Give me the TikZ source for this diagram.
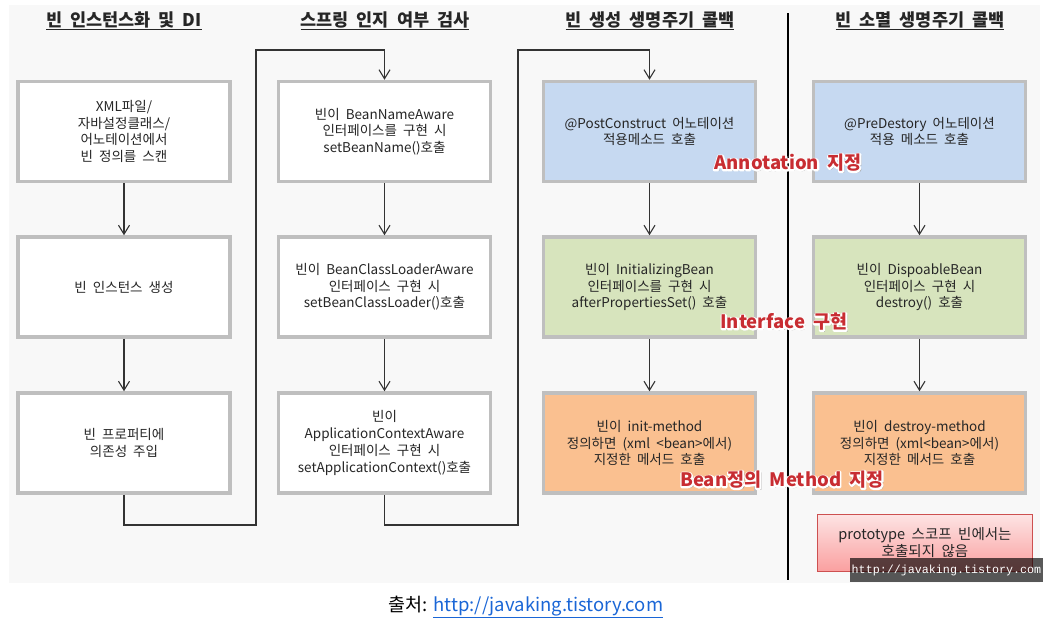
\documentclass[tikz,border=0pt]{standalone}
\usepackage{fontspec}
\setmainfont{Noto Sans CJK KR}[WordSpace=2]
\newfontfamily\capfont{Noto Sans CJK KR}
\newfontfamily\wmfont{Liberation Mono}
\usetikzlibrary{arrows.meta,calc}
\definecolor{bgc}{HTML}{F8F8F8}
\definecolor{boxborder}{HTML}{BFBFBF}
\definecolor{bluef}{HTML}{C6D9F1}
\definecolor{greenf}{HTML}{D7E4BD}
\definecolor{orangef}{HTML}{FAC090}
\definecolor{redlab}{RGB}{200,45,50}
\definecolor{linkblue}{HTML}{1A66D6}
\definecolor{connc}{HTML}{333333}
\newcommand{\strokedtext}[1]{\special{pdf:literal direct 1 Tr 3 w 1 j 1 1 1 RG}#1\special{pdf:literal direct 0 Tr}}
\newcommand{\redlabel}[3]{%
  \node[lab, text=black!40] at ($(#2)+(1.8,1.8)$) {#3};
  \node[lab, text=white] at (#2) {\strokedtext{#3}};
  \node[lab, text=redlab] (#1) at (#2) {#3};}
\begin{document}
\begin{tikzpicture}[x=1pt,y=-1pt,
  box/.style={draw=boxborder, line width=3.5pt, minimum width=212pt, minimum height=100pt,
     align=center, font=\fontsize{13.5}{16.7}\selectfont, text=black!85, inner sep=0pt},
  wbox/.style={box, fill=white},
  head/.style={font=\fontsize{17.5}{20}\selectfont\bfseries, text=black!85},
  conn/.style={draw=connc, line width=1.1pt},
  arr/.style={conn, -{Straight Barb[length=9pt,width=11pt,line width=1.1pt]}},
  lab/.style={font=\fontsize{18.5}{20}\selectfont\bfseries, inner sep=0pt}]
\useasboundingbox (0,0) rectangle (1051,624);
\fill[bgc] (9,5) rectangle (1040,583);
% headings
\node[head] (h1) at (124,21) {\underline{빈 인스턴스화 및 DI}};
\node[head] (h2) at (385,21) {\underline{스프링 인지 여부 검사}};
\node[head] (h3) at (650,21) {\underline{빈 생성 생명주기 콜백}};
\node[head] (h4) at (920,21) {\underline{빈 소멸 생명주기 콜백}};
% divider
\draw[line width=2.5pt] (788,13) coordinate (d1) -- (788,580) coordinate (d2);
% column 1
\node[wbox] (c1r1) at (124,131.5) {XML파일/\\자바설정클래스/\\어노테이션에서\\빈 정의를 스캔};
\node[wbox] (c1r2) at (124,287) {빈 인스턴스 생성};
\node[wbox] (c1r3) at (124,443) {빈 프로퍼티에\\의존성 주입};
% column 2
\node[wbox] (c2r1) at (384.5,131.5) {빈이 BeanNameAware\\인터페이스를 구현 시\\setBeanName()호출};
\node[wbox] (c2r2) at (384.5,287) {빈이 BeanClassLoaderAware\\인터페이스 구현 시\\setBeanClassLoader()호출};
\node[wbox] (c2r3) at (384.5,443) {빈이\\ApplicationContextAware\\인터페이스 구현 시\\setApplicationContext()호출};
% column 3
\node[box, fill=bluef] (c3r1) at (649.5,131.5) {@PostConstruct 어노테이션\\적용메소드 호출};
\node[box, fill=greenf] (c3r2) at (649.5,287) {빈이 InitializingBean\\인터페이스를 구현 시\\afterPropertiesSet() 호출};
\node[box, fill=orangef] (c3r3) at (649.5,443) {빈이 init-method\\정의하면 (xml <bean>에서)\\지정한 메서드 호출};
% column 4
\node[box, fill=bluef] (c4r1) at (919.5,131.5) {@PreDestory 어노테이션\\적용 메소드 호출};
\node[box, fill=greenf] (c4r2) at (919.5,287) {빈이 DispoableBean\\인터페이스 구현 시\\destroy() 호출};
\node[box, fill=orangef] (c4r3) at (919.5,443) {빈이 destroy-method\\정의하면 (xml<bean>에서)\\지정한 메서드 호출};
% arrows in columns
\foreach \c in {1,2,3,4}{
  \draw[arr] (c\c r1) -- (c\c r2);
  \draw[arr] (c\c r2) -- (c\c r3);
}
% connectors between columns
\coordinate (j1) at (256,525);
\coordinate (k1) at (384.5,50);
\coordinate (j2) at (518,525);
\coordinate (k2) at (649.5,50);
\draw[arr] (c1r3.south) |- (j1) |- (k1) -- (c2r1.north);
\draw[arr] (c2r3.south) |- (j2) |- (k2) -- (c3r1.north);
% prototype box
\node[draw={rgb,255:red,205;green,80;blue,80}, line width=0.8pt, top color={rgb,255:red,253;green,228;blue,228},
  bottom color={rgb,255:red,250;green,160;blue,160}, minimum width=215pt, minimum height=57pt,
  align=center, font=\fontsize{14.5}{17}\selectfont, text=black!85, inner sep=0pt] (proto) at (925,542.5)
  {prototype 스코프 빈에서는\\호출되지 않음};
% watermark
\node[fill=black, fill opacity=0.65, text opacity=1, text=white, minimum width=193pt, minimum height=24pt,
  inner sep=0pt, font=\wmfont\fontsize{11.7}{13}\selectfont] (wm) at (946.5,570) {http://javaking.tistory.com};
% red labels
\coordinate (p1) at (788,163);
\coordinate (p2) at (784,322);
\coordinate (p3) at (782,480);
\redlabel{l1}{p1}{Annotation 지정}
\redlabel{l2}{p2}{Interface 구현}
\redlabel{l3}{p3}{Bean정의 Method 지정}
% caption
\node[font=\capfont\fontsize{18.5}{21}\selectfont, inner sep=0pt] (cap) at (526,607)
  {출처: \textcolor{linkblue}{\underline{http://javaking.tistory.com}}};
\end{tikzpicture}
\end{document}
